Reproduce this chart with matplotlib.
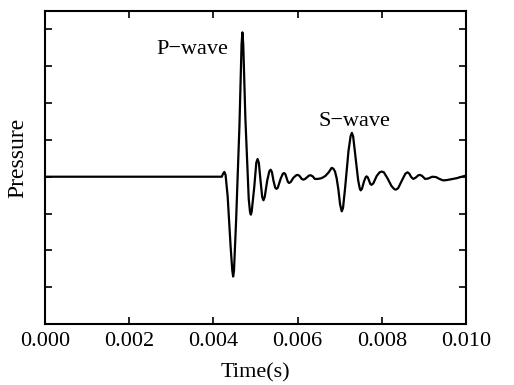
import matplotlib.pyplot as plt
import numpy as np

plt.rcParams['font.family'] = ['Liberation Serif', 'DejaVu Serif']

# waveform (time in s, pressure in arbitrary units)
time = np.array([
    0.0, 0.00420, 0.00423, 0.00426, 0.00429, 0.00434, 0.00441, 0.00445,
    0.00447, 0.00449, 0.00454, 0.00462, 0.00467, 0.00469, 0.00471, 0.00476,
    0.00484, 0.00487, 0.00489, 0.00491, 0.00497, 0.00502, 0.00505, 0.00508,
    0.00512, 0.00516, 0.00519, 0.00522, 0.00528, 0.00533, 0.00536, 0.00539,
    0.00543, 0.00547, 0.00550, 0.00553, 0.00560, 0.00565, 0.00568, 0.00571,
    0.00577, 0.00580, 0.00584, 0.00590, 0.00597, 0.00600, 0.00604, 0.00610,
    0.00614, 0.00618, 0.00627, 0.00631, 0.00636, 0.00641, 0.00648, 0.00657,
    0.00666, 0.00674, 0.00681, 0.00685, 0.00689, 0.00693, 0.00697, 0.00701,
    0.00705, 0.00708, 0.00713, 0.00721, 0.00726, 0.00729, 0.00732, 0.00737,
    0.00744, 0.00748, 0.00750, 0.00753, 0.00758, 0.00762, 0.00764, 0.00767,
    0.00773, 0.00776, 0.00780, 0.00788, 0.00795, 0.00800, 0.00805, 0.00814,
    0.00823, 0.00830, 0.00834, 0.00839, 0.00848, 0.00856, 0.00861, 0.00865,
    0.00870, 0.00875, 0.00880, 0.00887, 0.00891, 0.00896, 0.00903, 0.00910,
    0.00920, 0.00929, 0.00937, 0.00946, 0.00955, 0.00978, 0.00990, 0.01000,
])
pressure = np.array([
    0.0, 0.0, 0.08, 0.13, 0.05, -0.54, -1.9, -2.55,
    -2.71, -2.55, -1.2, 1.4, 3.6, 3.92, 3.6, 1.6,
    -0.6, -0.95, -1.03, -0.95, -0.3, 0.38, 0.48, 0.38,
    -0.1, -0.55, -0.64, -0.55, -0.1, 0.15, 0.19, 0.13,
    -0.12, -0.3, -0.33, -0.3, -0.05, 0.08, 0.10, 0.07,
    -0.14, -0.17, -0.14, -0.03, 0.04, 0.05, 0.03, -0.06,
    -0.08, -0.06, 0.03, 0.04, 0.01, -0.06, -0.06, -0.04,
    0.02, 0.12, 0.24, 0.22, 0.14, -0.05, -0.35, -0.75,
    -0.94, -0.85, -0.3, 0.7, 1.1, 1.19, 1.1, 0.6,
    -0.1, -0.33, -0.37, -0.33, -0.12, -0.01, 0.01, -0.02,
    -0.2, -0.22, -0.18, 0.02, 0.12, 0.14, 0.12, -0.05,
    -0.25, -0.34, -0.35, -0.31, -0.1, 0.08, 0.12, 0.09,
    -0.01, -0.06, -0.03, 0.04, 0.05, 0.02, -0.06, -0.05,
    0.0, -0.01, -0.06, -0.10, -0.09, -0.04, 0.0, 0.03,
])

xticks = [0.000, 0.002, 0.004, 0.006, 0.008, 0.010]
xticklabels = ['0.000', '0.002', '0.004', '0.006', '0.008', '0.010']

fig = plt.figure(figsize=(5.14, 3.85), dpi=100)
ax = fig.add_axes([0.0875, 0.1584, 0.819, 0.813])

ax.plot(time, pressure, color='black', lw=1.6, solid_joinstyle='round')

ax.set_xlim(0, 0.010)
ax.set_ylim(-4, 4.5)
ax.set_xticks(xticks)
ax.set_xticklabels(xticklabels, fontsize=16)
ax.set_yticks(np.arange(-3, 5))
ax.set_yticklabels([])
ax.tick_params(direction='in', length=5, width=1.2, top=True, right=True, pad=6)
for s in ax.spines.values():
    s.set_linewidth(1.5)

ax.set_xlabel('Time(s)', fontsize=16)
ax.xaxis.set_label_coords(0.5, -0.125)
ax.set_ylabel('Pressure', fontsize=17)
ax.yaxis.set_label_coords(-0.04, 0.53)

ax.text(0.00265, 3.45, 'P\u2212wave', fontsize=16, ha='left', va='center')
ax.text(0.00649, 1.5, 'S\u2212wave', fontsize=16, ha='left', va='center')

fig.savefig('out.png', dpi=100)
